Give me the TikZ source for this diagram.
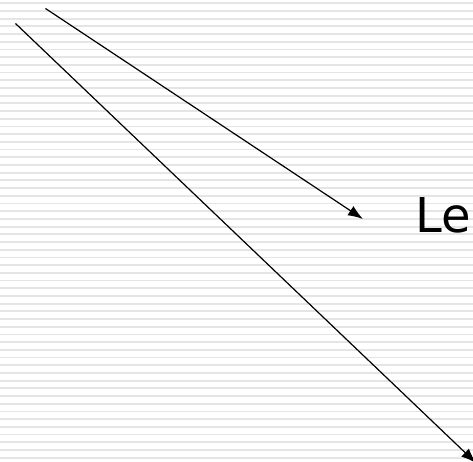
\documentclass[tikz,border=0pt]{standalone}
\usepackage{fontspec}
\setmainfont{DejaVu Sans}
\usetikzlibrary{arrows.meta}

\begin{document}
\begin{tikzpicture}[
    x=1pt, y=-1pt,
    stripe/.style={
        draw=black!10,
        line width=1.8pt
    },
    pointer/.style={
        draw=black,
        line width=1.2pt,
        -{Latex[length=15pt,width=11pt]}
    },
    label/.style={
        font=\fontsize{48}{52}\selectfont,
        inner sep=0pt,
        anchor=base west
    }
]

% ============================================================
% Canvas and background stripes
% ============================================================

\useasboundingbox (0,0) rectangle (473,462);
\clip (0,0) rectangle (473,462);

\foreach \k in {0,...,59}
    \draw[stripe] (0,{3.3+7.7*\k}) -- (473,{3.3+7.7*\k});

% ============================================================
% Text
% ============================================================

\node[label] (le) at (415,232) {Le};

% ============================================================
% Pointers
% ============================================================

\coordinate (upperstart) at (45.5,8.5);
\coordinate (upperend) at (363,219);

\coordinate (lowerstart) at (15.5,23.5);
\coordinate (lowerend) at (476,463);

\draw[pointer] (upperstart) -- (upperend);

\draw[pointer] (lowerstart) -- (lowerend);

\end{tikzpicture}
\end{document}
